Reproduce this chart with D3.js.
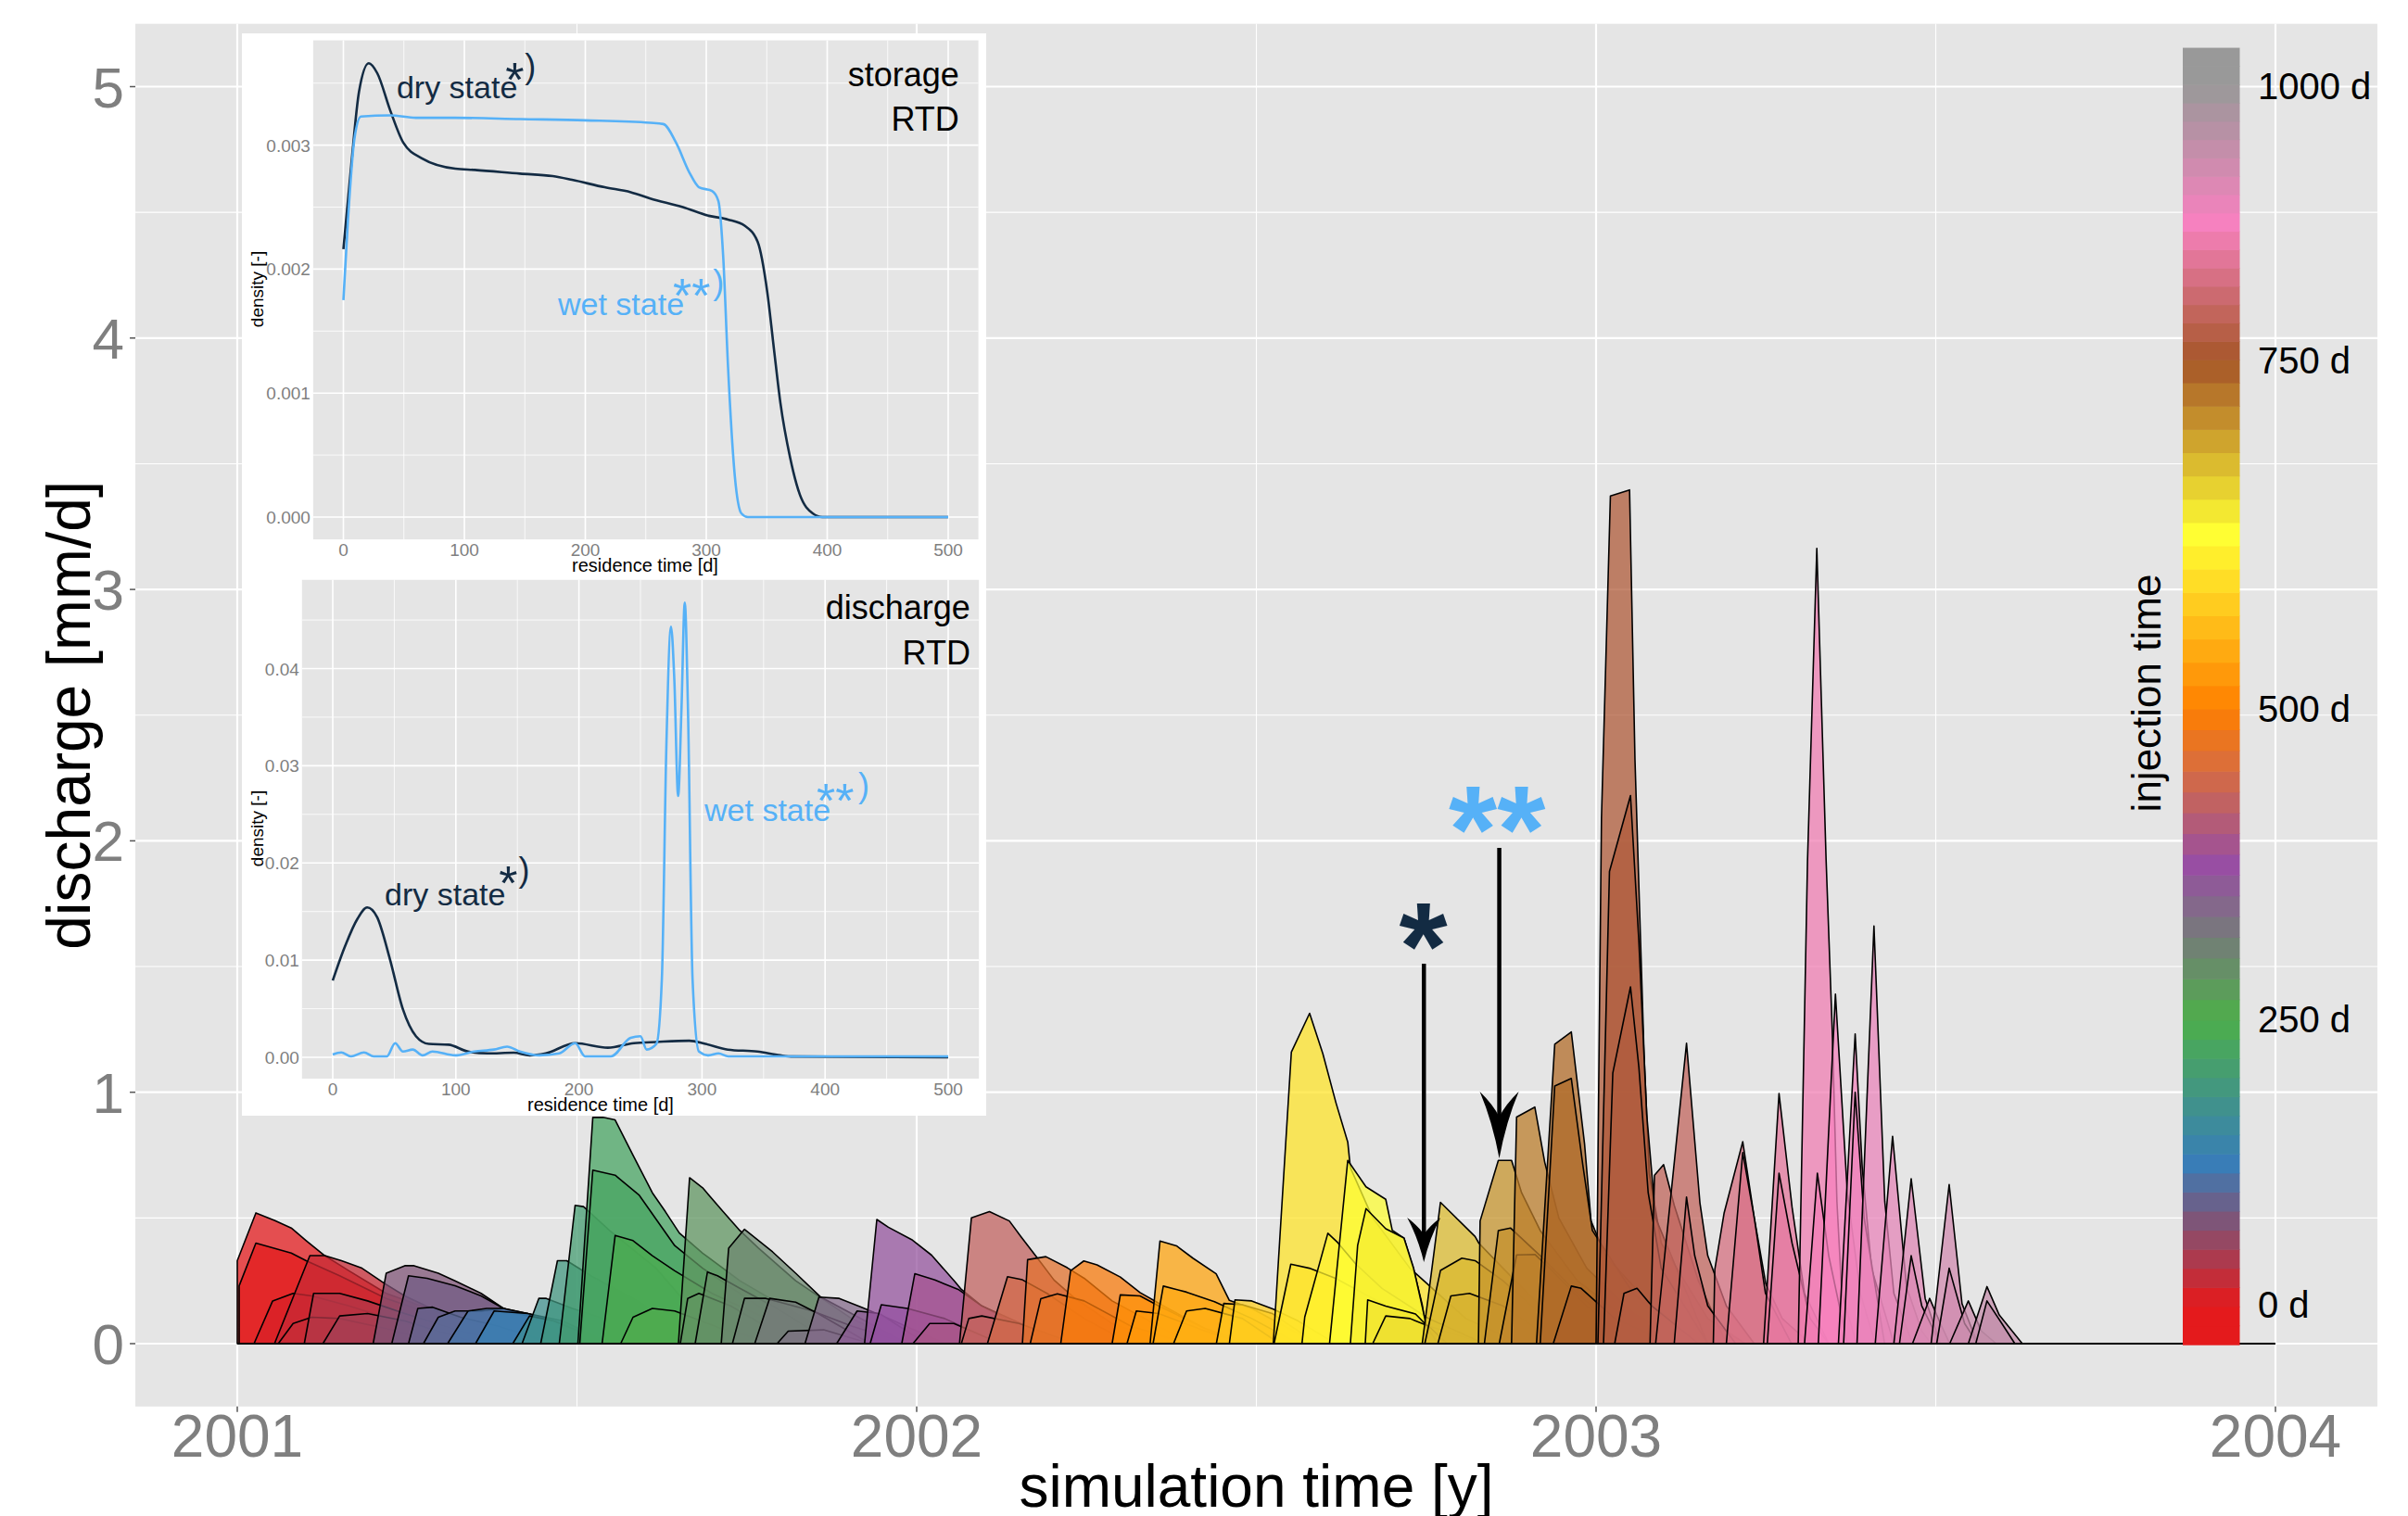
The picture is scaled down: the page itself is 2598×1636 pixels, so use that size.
<!DOCTYPE html>
<html>
<head>
<meta charset="utf-8">
<script src="https://cdn.jsdelivr.net/npm/d3@7"></script>
<style>
  body { margin: 0; background: #fff; }
  svg { display: block; }
</style>
</head>
<body>
<script>
// ---- data -------------------------------------------------------------
// simulation time axis (days since 2001-01-01)
var yearLabels = ["2001", "2002", "2003", "2004"];
var yearDays = [0, 365, 730, 1095];
var qTicks = [0, 1, 2, 3, 4, 5];

// Set1 ramp used for injection time
var set1 = ["#E41A1C", "#377EB8", "#4DAF4A", "#984EA3", "#FF7F00", "#FFFF33", "#A65628", "#F781BF", "#999999"];
var colorDays = [0, 125, 200, 345, 450, 585, 715, 850, 1000];
var legendTicks = [0, 250, 500, 750, 1000];

// discharge polygons of each injection cohort: [day, discharge mm/d]
var cohorts2001a = [
  [[0,0],[0,0.33],[10,0.52],[20,0.49],[29,0.46],[37,0.41],[47,0.35],[60,0.29],[80,0.2],[110,0.12],[150,0.05],[190,0]],
  [[1,0],[1,0.23],[10,0.4],[29,0.36],[37,0.33],[55,0.27],[80,0.18],[120,0.08],[160,0]],
  [[9,0],[19,0.17],[30,0.2],[40,0.19],[60,0.15],[90,0.08],[130,0]],
  [[20,0],[39,0.35],[47,0.35],[56,0.33],[67,0.3],[79,0.24],[90,0.19],[110,0.12],[140,0.05],[180,0]],
  [[22,0],[30,0.08],[40,0.105],[55,0.1],[80,0.06],[110,0]],
  [[36,0],[41,0.2],[55,0.2],[70,0.17],[90,0.12],[120,0.05],[150,0]],
  [[46,0],[55,0.11],[70,0.12],[90,0.09],[130,0]],
  [[73,0],[80,0.28],[90,0.31],[95,0.31],[108,0.28],[117,0.25],[131,0.2],[143,0.14],[156,0.12],[175,0.08],[200,0]],
  [[83,0],[92,0.27],[102,0.26],[117,0.23],[131,0.19],[143,0.14],[160,0.1],[185,0]],
  [[92,0],[97,0.14],[105,0.145],[120,0.105],[140,0.07],[170,0]],
  [[100,0],[108,0.105],[117,0.13],[131,0.13],[143,0.14],[160,0.1],[190,0]],
  [[113,0],[124,0.13],[134,0.14],[143,0.14],[156,0.12],[175,0.08],[200,0]],
  [[128,0],[138,0.13],[156,0.12],[175,0.09],[200,0]],
  [[148,0],[157,0.11],[170,0.09],[200,0]],
  [[153,0],[162,0.18],[166,0.18],[180,0.14],[205,0.08],[240,0]],
  [[163,0],[172,0.33],[177,0.33],[190,0.27],[215,0.17],[250,0]],
  [[173,0],[181.5,0.55],[186,0.545],[200,0.45],[225,0.3],[260,0]]
];
var cohorts2001b = [
  [[183,0],[191,0.9],[196.5,0.9],[203,0.89],[212.6,0.75],[223,0.6],[230,0.525],[237.5,0.44],[250,0.36],[270,0.25],[300,0.12],[330,0]],
  [[184,0],[191,0.69],[203,0.67],[216,0.59],[235,0.39],[250,0.3],[280,0.15],[320,0]],
  [[196,0],[203,0.43],[212.6,0.41],[223,0.35],[235,0.29],[255,0.2],[290,0.08],[320,0]],
  [[206,0],[212.6,0.105],[223,0.14],[235,0.13],[260,0.06],[290,0]],
  [[237,0],[243,0.66],[250,0.62],[261,0.525],[270,0.45],[280,0.38],[300,0.25],[330,0.1],[360,0]],
  [[238,0],[242,0.18],[248,0.2],[265,0.15],[300,0]],
  [[246,0],[252.6,0.285],[258,0.27],[270,0.22],[290,0.14],[320,0]],
  [[260,0],[264,0.38],[272.5,0.455],[287.6,0.365],[300,0.28],[313.5,0.185],[330,0.12],[360,0]],
  [[266,0],[272.5,0.18],[284,0.18],[309,0.13],[330,0.07],[360,0]],
  [[278,0],[286,0.18],[300,0.165],[312,0.12],[340,0]],
  [[290,0],[296,0.05],[315,0.055],[340,0]],
  [[305,0],[312.5,0.185],[323.4,0.18],[335.7,0.144],[350,0.1],[380,0]],
  [[322,0],[333,0.13],[345,0.12],[370,0]],
  [[337,0],[343.6,0.494],[349.8,0.463],[362.3,0.414],[373,0.352],[385.5,0.247],[389,0.216],[400,0.15],[420,0.07],[450,0]],
  [[340,0],[346,0.155],[360,0.14],[380,0.1],[410,0]],
  [[357,0],[364,0.278],[374.8,0.253],[387.3,0.216],[400,0.15],[430,0.05],[450,0]],
  [[363,0],[372,0.08],[385,0.08],[410,0]]
];
var cohorts2002a = [
  [[388,0],[394.4,0.5],[404.1,0.525],[414.8,0.488],[421,0.426],[429.9,0.34],[438.8,0.253],[450,0.18],[470,0.08],[500,0]],
  [[389,0],[393,0.1],[400,0.11],[420,0.08],[450,0]],
  [[403,0],[413.8,0.266],[421.8,0.254],[435,0.2],[455,0.1],[480,0]],
  [[421.8,0],[424.6,0.334],[434.4,0.346],[445.9,0.302],[455,0.26],[470,0.17],[500,0.05],[520,0]],
  [[426,0],[431.7,0.179],[440.6,0.198],[455,0.17],[480,0.07],[510,0]],
  [[442.4,0],[447.7,0.29],[454.8,0.329],[461.9,0.313],[474.4,0.265],[485,0.203],[500,0.14],[520,0.06],[545,0]],
  [[470,0],[474.4,0.194],[485,0.19],[495,0.15],[520,0.06],[540,0]],
  [[478,0],[483,0.13],[495,0.12],[520,0.05],[540,0]],
  [[490.4,0],[495.7,0.408],[504.6,0.389],[513.4,0.34],[525.9,0.278],[533,0.172],[545,0.14],[560,0.08],[580,0]],
  [[492,0],[497.5,0.229],[510,0.205],[525,0.167],[545,0.1],[570,0]],
  [[503,0],[510,0.13],[520,0.14],[540,0.1],[560,0]],
  [[526,0],[530,0.16],[540,0.155],[556,0.12],[580,0]],
  [[533,0],[536,0.174],[545,0.17],[556.6,0.137],[570,0.09],[590,0]]
];
var cohorts2002b = [
  [[556.6,0],[566.3,1.16],[576.1,1.314],[583.2,1.154],[590.3,0.957],[596.6,0.802],[598,0.7],[610,0.5],[630,0.3],[660,0.1],[690,0]],
  [[557,0],[566,0.316],[576,0.3],[590,0.26],[610,0.18],[640,0.07],[670,0]],
  [[572,0],[573.5,0.106],[585.9,0.439],[591.2,0.402],[601,0.316],[615,0.22],[640,0.1],[670,0]],
  [[586.8,0],[596.6,0.729],[606.4,0.624],[617,0.574],[620.5,0.451],[626.8,0.42],[632.1,0.291],[636.6,0.155],[640,0]],
  [[598,0],[601.9,0.39],[606.4,0.537],[617,0.457],[626.8,0.42],[632,0.3],[638,0.1],[641,0]],
  [[606,0],[607.3,0.174],[617,0.149],[633,0.118],[638,0.08],[645,0]],
  [[610,0],[617,0.11],[630,0.1],[640,0.07],[650,0]],
  [[636.6,0],[646.4,0.562],[665,0.426],[667,0.4],[680,0.3],[700,0.15],[720,0]],
  [[638,0],[646.4,0.291],[657.9,0.34],[665,0.33],[680,0.25],[700,0.12],[720,0]],
  [[645,0],[652,0.19],[662,0.2],[680,0.15],[710,0]],
  [[666.8,0],[667.7,0.488],[677.5,0.729],[684.6,0.729],[690,0.6],[700,0.45],[720,0.25],[750,0.08],[770,0]],
  [[670,0],[677.5,0.45],[684,0.46],[700,0.35],[720,0.2],[750,0]],
  [[678,0],[687.3,0.353],[697.1,0.355],[705,0.3],[725,0.15],[750,0]],
  [[684.6,0],[687.3,0.901],[697.1,0.941],[702.4,0.722],[710,0.5],[725,0.3],[750,0.12],[780,0]],
  [[698,0],[707.8,1.191],[716.7,1.24],[723.8,0.796],[727.3,0.488],[735,0.35],[760,0.15],[790,0]],
  [[700,0],[707.8,1.025],[716.7,1.055],[722.9,0.71],[728,0.45],[750,0.2],[780,0]],
  [[707,0],[716.7,0.229],[722,0.22],[740,0.1],[770,0]]
];
var cohorts2003 = [
  [[730,0],[732.9,2.09],[737.7,3.372],[748,3.396],[750.9,2.325],[755.8,1.148],[758.6,0.677],[765,0.4],[790,0.1],[810,0]],
  [[731,0],[737.2,1.878],[748.5,2.18],[753,1.6],[757.2,0.913],[762,0.5],[790,0]],
  [[734,0],[739,1.077],[748.5,1.419],[753,1.1],[758,0.6],[765,0.3],[790,0]],
  [[740,0],[745,0.2],[752,0.22],[760,0.15],[785,0]],
  [[759,0],[761.4,0.67],[766.3,0.712],[772,0.55],[785,0.25],[800,0]],
  [[762,0],[778.6,1.195],[785.8,0.56],[790,0.35],[800,0.15],[815,0]],
  [[772,0],[778.6,0.583],[783,0.35],[790,0.15],[805,0]],
  [[793,0],[793.8,0.295],[798.8,0.52],[808.8,0.803],[815,0.5],[821.2,0.238],[830,0.1],[845,0]],
  [[800,0],[808.8,0.76],[815,0.5],[821,0.2],[835,0]],
  [[820,0],[828.3,0.995],[835.3,0.543],[842,0.2],[855,0]],
  [[822,0],[828.3,0.678],[835.3,0.4],[845,0.1],[855,0]],
  [[838.6,0],[843.6,1.921],[848.6,3.163],[853.6,1.921],[856.9,1.243],[859.4,0.566],[862,0.2],[870,0]],
  [[842,0],[848.9,0.678],[855,0.35],[865,0]],
  [[849.4,0],[858.6,1.39],[865,0.6],[872,0.2],[880,0]],
  [[860.2,0],[869.2,1.232],[873,0.7],[878,0.3],[890,0]],
  [[863,0],[869.2,1.0],[874,0.5],[885,0]],
  [[870.2,0],[879.3,1.661],[885.1,0.566],[890,0.2],[900,0]],
  [[880,0],[889.3,0.825],[896.8,0.226],[905,0.05],[910,0]],
  [[890,0],[899.3,0.656],[906.8,0.18],[915,0]],
  [[893,0],[899.3,0.35],[905,0.15],[915,0]],
  [[900,0],[909.2,0.18],[915,0.08],[920,0]],
  [[910,0],[919.7,0.633],[926.6,0.159],[935,0]],
  [[913,0],[919.7,0.3],[928,0.08],[935,0]],
  [[920,0],[930,0.17],[937,0.05],[945,0]],
  [[930,0],[940,0.227],[946.6,0.114],[959,0]],
  [[934,0],[940,0.17],[948,0.08],[955,0]]
];

// arrows marking the dry (*) and wet (**) states
var arrowDays = [637.5, 678];
var arrowFrom = [1.511, 1.972];
var arrowTo = [0.324, 0.737];

// storage RTD: [residence time d, density]
var storageDry = [[0,0.00216],[6.5,0.00284],[12.9,0.00343],[21,0.00366],[28,0.00358],[38.7,0.00328],[49.5,0.00302],
  [65.6,0.00289],[92.5,0.00281],[108.6,0.0028],[146,0.00277],[173,0.00275],[189,0.00272],[216,0.00266],[237.6,0.00262],
  [253.7,0.00257],[280.6,0.0025],[302,0.00243],[318,0.0024],[331.7,0.00235],[342.5,0.00222],[350.5,0.00181],
  [355.9,0.00136],[361.3,0.00092],[369.3,0.00048],[377.4,0.00018],[388,0.00003],[396,0],[500,0]];
var storageWet = [[0,0.00175],[3.8,0.0024],[9.1,0.00305],[14.5,0.00323],[38.7,0.00324],[60,0.00322],[92.5,0.00322],
  [146,0.00321],[200,0.0032],[253.7,0.00318],[264.5,0.00317],[275,0.00302],[286,0.00278],[294,0.00266],[304.8,0.00263],
  [310,0.00255],[314,0.0021],[318,0.00121],[323.6,0.00033],[329,0.00003],[334.4,0],[500,0]];
// discharge RTD
var dischargeDry = [[0,0.0079],[9.5,0.01127],[20,0.01423],[28,0.01542],[36,0.01443],[46.5,0.01008],[57,0.00494],
  [67.6,0.00217],[78,0.00138],[94,0.0013],[110,0.00059],[125.8,0.0004],[147,0.00047],[160,0.0002],[173,0.0004],
  [197,0.00146],[223.5,0.00099],[244.7,0.00146],[263,0.00158],[289.6,0.0017],[302.8,0.00138],[321,0.00079],
  [345,0.00059],[363.6,0.0002],[374,0.00008],[500,0]];
var dischargeWet = [[0,0.00028],[6.9,0.0005],[14.8,0.0001],[25.4,0.0005],[33.3,0.0001],[44,0.0001],[50.7,0.00146],
  [57,0.0006],[65,0.0008],[73,0.0002],[81,0.0006],[99.4,0.0002],[115,0.0006],[131,0.0008],[141.6,0.0011],[152,0.0006],
  [168,0.0002],[184,0.0004],[197,0.00146],[205,0.0001],[226,0.0001],[242,0.002],[250,0.00217],[255,0.0008],[263,0.0014],
  [267.4,0.0081],[271,0.0318],[274.8,0.0443],[277.5,0.0389],[280.6,0.0269],[283.3,0.0358],[286,0.0468],[288.6,0.0358],
  [292.3,0.0081],[297.5,0.0006],[305.5,0.0002],[313.4,0.0004],[321.3,0.0001],[500,0.0001]];

var resTicks = [0, 100, 200, 300, 400, 500];
var storageTicks = [0, 0.001, 0.002, 0.003];
var dischargeTicks = [0, 0.01, 0.02, 0.03, 0.04];

// ---- layout -----------------------------------------------------------
var width = 2598, height = 1636;
var dryCol = "#132B43", wetCol = "#56B1F7", gridCol = "#ffffff", bg = "#E5E5E5", tickCol = "#7F7F7F";
var font = "'Liberation Sans', Arial, Helvetica, sans-serif";

var svg = d3.select("body").append("svg")
  .attr("width", width)
  .attr("height", height)
  .style("font-family", font);

var x = d3.scaleLinear().domain([0, 1095]).range([256, 2455]);
var y = d3.scaleLinear().domain([0, 5]).range([1450, 93.5]);
var px0 = x(-54.75), px1 = x(1149.75), py0 = y(5.25), py1 = y(-0.25);

svg.append("rect").attr("x", px0).attr("y", py0)
  .attr("width", px1 - px0).attr("height", py1 - py0).attr("fill", bg);

// grid
var g = svg.append("g");
[0.5, 1.5, 2.5, 3.5, 4.5].forEach(function(v){
  g.append("line").attr("x1", px0).attr("x2", px1).attr("y1", y(v)).attr("y2", y(v))
   .attr("stroke", gridCol).attr("stroke-width", 1.1);
});
[182.5, 547.5, 912.5].forEach(function(v){
  g.append("line").attr("y1", py0).attr("y2", py1).attr("x1", x(v)).attr("x2", x(v))
   .attr("stroke", gridCol).attr("stroke-width", 1.1);
});
qTicks.forEach(function(v){
  g.append("line").attr("x1", px0).attr("x2", px1).attr("y1", y(v)).attr("y2", y(v))
   .attr("stroke", gridCol).attr("stroke-width", 2.2);
});
yearDays.forEach(function(v){
  g.append("line").attr("y1", py0).attr("y2", py1).attr("x1", x(v)).attr("x2", x(v))
   .attr("stroke", gridCol).attr("stroke-width", 2.2);
});

// cohort polygons
var injColor = d3.scaleLinear().domain(colorDays).range(set1).clamp(true);
var line = d3.line().x(function(p){ return x(p[0]); }).y(function(p){ return y(p[1]); });
var cohorts = [].concat(cohorts2001a, cohorts2001b, cohorts2002a, cohorts2002b, cohorts2003);

g.selectAll("path.cohort")
  .data(cohorts)
  .enter()
  .append("path")
  .attr("class", "cohort")
  .attr("d", function(d){ return line(d) + "Z"; })
  .attr("fill", function(d){ return injColor(d[0][0]); })
  .attr("fill-opacity", 0.74)
  .attr("stroke", "#000")
  .attr("stroke-width", 1.6)
  .attr("stroke-linejoin", "round");

g.append("line").attr("x1", x(0)).attr("x2", x(1095)).attr("y1", y(0)).attr("y2", y(0))
  .attr("stroke", "#000").attr("stroke-width", 2.2);

// arrows
var headLen = [48, 72], headHalf = [18, 21];
arrowDays.forEach(function(d, i){
  var ax = x(d), tip = y(arrowTo[i]), hl = headLen[i], hw = headHalf[i];
  g.append("line").attr("x1", ax).attr("x2", ax).attr("y1", y(arrowFrom[i])).attr("y2", tip - hl * 0.5)
    .attr("stroke", "#000").attr("stroke-width", 4.5);
  g.append("path")
    .attr("d", "M" + ax + "," + tip +
      " Q" + (ax - hw * 0.35) + "," + (tip - hl * 0.55) + " " + (ax - hw) + "," + (tip - hl) +
      " Q" + (ax - hw * 0.3) + "," + (tip - hl * 0.8) + " " + ax + "," + (tip - hl * 0.62) +
      " Q" + (ax + hw * 0.3) + "," + (tip - hl * 0.8) + " " + (ax + hw) + "," + (tip - hl) +
      " Q" + (ax + hw * 0.35) + "," + (tip - hl * 0.55) + " " + ax + "," + tip + "Z")
    .attr("fill", "#000");
});
g.append("text").attr("x", x(637.2)).attr("y", y(1.412)).attr("text-anchor", "middle")
  .attr("font-size", 134).attr("font-weight", "bold").attr("fill", dryCol).text("*");
g.append("text").attr("x", x(676.8)).attr("y", y(1.877)).attr("text-anchor", "middle")
  .attr("font-size", 134).attr("font-weight", "bold").attr("fill", wetCol).text("**");

// colour bar legend
var barColor = d3.scaleLinear().domain(d3.range(9).map(function(i){ return i * 125; })).range(set1).clamp(true);
var legendY = d3.scaleLinear().domain(legendTicks).range([1408, 1100, 765, 389, 93]);
var nb = 64, vLo = -35, vHi = 1035, step = (vHi - vLo) / nb;
d3.range(nb).forEach(function(i){
  var v0 = vLo + i * step, v1 = v0 + step;
  g.append("rect").attr("x", 2355).attr("width", 61.5)
   .attr("y", legendY(v1)).attr("height", legendY(v0) - legendY(v1) + 0.6)
   .attr("fill", barColor((v0 + v1) / 2));
});
legendTicks.forEach(function(t){
  g.append("text").attr("x", 2436).attr("y", legendY(t) + 14)
   .attr("font-size", 40).attr("fill", "#000").text(t + " d");
});
g.append("text").attr("transform", "translate(2331,748) rotate(-90)")
  .attr("text-anchor", "middle").attr("font-size", 44).attr("fill", "#000").text("injection time");

// main axes
var ax = svg.append("g");
yearDays.forEach(function(v, i){
  ax.append("line").attr("x1", x(v)).attr("x2", x(v)).attr("y1", py1).attr("y2", py1 + 6)
    .attr("stroke", "#555").attr("stroke-width", 1.5);
  ax.append("text").attr("x", x(v)).attr("y", 1572).attr("text-anchor", "middle")
    .attr("font-size", 64).attr("fill", tickCol).text(yearLabels[i]);
});
qTicks.forEach(function(v){
  ax.append("line").attr("x1", px0 - 6).attr("x2", px0).attr("y1", y(v)).attr("y2", y(v))
    .attr("stroke", "#555").attr("stroke-width", 1.5);
  ax.append("text").attr("x", 134).attr("y", y(v) + 22).attr("text-anchor", "end")
    .attr("font-size", 62).attr("fill", tickCol).text(v);
});
ax.append("text").attr("x", (px0 + px1) / 2).attr("y", 1626).attr("text-anchor", "middle")
  .attr("font-size", 64).attr("fill", "#000").text("simulation time [y]");
ax.append("text").attr("transform", "translate(97," + ((py0 + py1) / 2) + ") rotate(-90)")
  .attr("text-anchor", "middle").attr("font-size", 66).attr("fill", "#000").text("discharge [mm/d]");

// ---- insets -----------------------------------------------------------
svg.append("rect").attr("x", 261).attr("y", 36).attr("width", 803).attr("height", 1168).attr("fill", "#fff");

function inset(cfg){
  var xs = cfg.xs, ys = cfg.ys, ig = svg.append("g");
  var x0 = xs(-25), x1 = xs(525), y0 = ys(cfg.yMax), y1 = ys(cfg.yMin);
  ig.append("rect").attr("x", x0).attr("y", y0).attr("width", x1 - x0).attr("height", y1 - y0).attr("fill", bg);
  cfg.yMinor.forEach(function(v){
    ig.append("line").attr("x1", x0).attr("x2", x1).attr("y1", ys(v)).attr("y2", ys(v)).attr("stroke", gridCol).attr("stroke-width", 0.8);
  });
  [50, 150, 250, 350, 450].forEach(function(v){
    ig.append("line").attr("y1", y0).attr("y2", y1).attr("x1", xs(v)).attr("x2", xs(v)).attr("stroke", gridCol).attr("stroke-width", 0.8);
  });
  cfg.yTicks.forEach(function(v){
    ig.append("line").attr("x1", x0).attr("x2", x1).attr("y1", ys(v)).attr("y2", ys(v)).attr("stroke", gridCol).attr("stroke-width", 1.6);
    ig.append("text").attr("x", x0 - 3).attr("y", ys(v) + 7).attr("text-anchor", "end")
      .attr("font-size", 19).attr("fill", tickCol).text(cfg.fmt(v));
  });
  resTicks.forEach(function(v){
    ig.append("line").attr("y1", y0).attr("y2", y1).attr("x1", xs(v)).attr("x2", xs(v)).attr("stroke", gridCol).attr("stroke-width", 1.6);
    ig.append("text").attr("x", xs(v)).attr("y", y1 + 18).attr("text-anchor", "middle")
      .attr("font-size", 19).attr("fill", tickCol).text(v);
  });
  ig.append("text").attr("x", cfg.titleX).attr("y", y1 + 35).attr("text-anchor", "middle")
    .attr("font-size", 20).attr("fill", "#000").text("residence time [d]");
  ig.append("text").attr("transform", "translate(284," + cfg.densY + ") rotate(-90)")
    .attr("text-anchor", "middle").attr("font-size", 19).attr("fill", "#000").text("density [-]");

  var l = d3.line().curve(d3.curveMonotoneX)
    .x(function(p){ return xs(p[0]); }).y(function(p){ return ys(p[1]); });
  ig.append("path").datum(cfg.dry).attr("d", l).attr("fill", "none").attr("stroke", dryCol).attr("stroke-width", 2.6);
  ig.append("path").datum(cfg.wet).attr("d", l).attr("fill", "none").attr("stroke", wetCol).attr("stroke-width", 2.6);

  // labels
  var lb = cfg.labels;
  ig.append("text").attr("x", xs(lb.dry[0])).attr("y", ys(lb.dry[1])).attr("font-size", 34).attr("fill", dryCol).text("dry state");
  ig.append("text").attr("x", xs(lb.dryS[0])).attr("y", ys(lb.dryS[1])).attr("font-size", 52).attr("fill", dryCol).text("*");
  ig.append("text").attr("x", xs(lb.dryP[0])).attr("y", ys(lb.dryP[1])).attr("font-size", 36).attr("fill", dryCol).text(")");
  ig.append("text").attr("x", xs(lb.wet[0])).attr("y", ys(lb.wet[1])).attr("font-size", 34).attr("fill", wetCol).text("wet state");
  ig.append("text").attr("x", xs(lb.wetS[0])).attr("y", ys(lb.wetS[1])).attr("font-size", 52).attr("fill", wetCol).text("**");
  ig.append("text").attr("x", xs(lb.wetP[0])).attr("y", ys(lb.wetP[1])).attr("font-size", 36).attr("fill", wetCol).text(")");
  ig.append("text").attr("x", xs(lb.title[0])).attr("y", ys(lb.title[1])).attr("text-anchor", "end")
    .attr("font-size", 36).attr("fill", "#000").text(cfg.title);
  ig.append("text").attr("x", xs(lb.rtd[0])).attr("y", ys(lb.rtd[1])).attr("text-anchor", "end")
    .attr("font-size", 36).attr("fill", "#000").text("RTD");
}

inset({
  xs: d3.scaleLinear().domain([0, 500]).range([370.5, 1023]),
  ys: d3.scaleLinear().domain([0, 0.003]).range([558, 156.6]),
  yMin: -0.00018, yMax: 0.003845,
  yTicks: storageTicks, yMinor: [0.0005, 0.0015, 0.0025, 0.0035],
  fmt: d3.format(".3f"),
  titleX: 696, densY: 312,
  dry: storageDry, wet: storageWet,
  title: "storage",
  labels: { dry: [44, 0.003378], dryS: [134, 0.003393], dryP: [150, 0.003543],
            wet: [177.4, 0.00163], wetS: [272.4, 0.00165], wetP: [305.5, 0.0018],
            title: [509, 0.003475], rtd: [509, 0.003117] }
});

inset({
  xs: d3.scaleLinear().domain([0, 500]).range([359, 1023]),
  ys: d3.scaleLinear().domain([0, 0.04]).range([1141, 721.5]),
  yMin: -0.00219, yMax: 0.04913,
  yTicks: dischargeTicks, yMinor: [0.005, 0.015, 0.025, 0.035, 0.045],
  fmt: d3.format(".2f"),
  titleX: 648, densY: 894,
  dry: dischargeDry, wet: dischargeWet,
  title: "discharge",
  labels: { dry: [42.2, 0.01561], dryS: [135, 0.01621], dryP: [151, 0.01812],
            wet: [302, 0.02431], wetS: [393, 0.02473], wetP: [427, 0.02684],
            title: [518, 0.0451], rtd: [518, 0.04043] }
});
</script>
</body>
</html>
